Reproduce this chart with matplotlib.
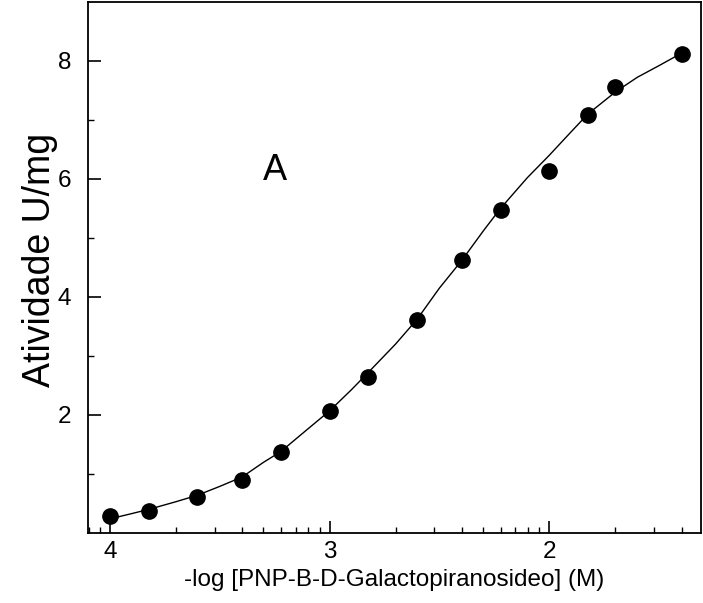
import matplotlib
matplotlib.use("Agg")
import matplotlib.pyplot as plt
from matplotlib.ticker import FixedLocator, LogLocator, NullFormatter, FuncFormatter
import numpy as np

# substrate concentration (mM) and measured activity (U/mg)
conc_mM = [0.1, 0.15, 0.25, 0.4, 0.6, 1.0, 1.5, 2.5, 4.0, 6.0, 10.0, 15.0, 20.0, 40.0]
activity = [0.29, 0.37, 0.61, 0.90, 1.37, 2.06, 2.65, 3.61, 4.63, 5.47, 6.13, 7.09, 7.55, 8.11]

# fitted curve: -log[S] and activity
fit_pl = [4.0, 3.9, 3.824, 3.7, 3.602, 3.5, 3.398, 3.3, 3.222, 3.1, 3.0, 2.9, 2.824,
          2.7, 2.602, 2.5, 2.398, 2.3, 2.222, 2.1, 2.0, 1.9, 1.824, 1.7, 1.6, 1.5, 1.398]
fit_act = [0.24, 0.33, 0.40, 0.53, 0.64, 0.79, 0.95, 1.20, 1.38, 1.76, 2.07, 2.43, 2.72,
           3.20, 3.62, 4.15, 4.62, 5.12, 5.50, 6.02, 6.40, 6.80, 7.10, 7.47, 7.72, 7.92, 8.13]

major_pl = [4, 3, 2]
y_major = [2, 4, 6, 8]
y_minor = [1, 3, 5, 7]

plt.rcParams["font.family"] = ["Liberation Sans", "DejaVu Sans"]

fig = plt.figure(figsize=(7.03, 6.03), dpi=100)
ax = fig.add_axes([0.125, 0.116, 0.872, 0.881])

conc_M = np.array(conc_mM) * 1e-3
fit_conc = 10.0 ** (-np.array(fit_pl))

ax.plot(fit_conc, fit_act, color="black", lw=1.0)
ax.plot(conc_M, activity, "o", color="black", ms=11, mec="black")

ax.set_xscale("log")
ax.set_xlim(10 ** -4.1, 10 ** -1.31)
ax.set_ylim(0, 9)

ax.xaxis.set_major_locator(FixedLocator([10.0 ** -p for p in major_pl]))
ax.xaxis.set_major_formatter(FuncFormatter(lambda v, pos: f"{-np.log10(v):.0f}"))
ax.xaxis.set_minor_locator(LogLocator(base=10, subs=np.arange(2, 10), numticks=20))
ax.xaxis.set_minor_formatter(NullFormatter())

ax.yaxis.set_major_locator(FixedLocator(y_major))
ax.yaxis.set_minor_locator(FixedLocator(y_minor))

ax.tick_params(which="both", direction="in", top=False, right=False, labelsize=17.5)
ax.tick_params(which="major", length=9, width=1.2)
ax.tick_params(which="minor", length=4, width=1.0)
ax.tick_params(axis="y", pad=12)
ax.tick_params(axis="x", pad=6)

for sp in ax.spines.values():
    sp.set_linewidth(1.3)

ax.set_xlabel("-log [PNP-B-D-Galactopiranosideo] (M)", fontsize=17.5, labelpad=4)
ax.set_ylabel("Atividade U/mg", fontsize=27, labelpad=0, y=0.515)

ax.text(10 ** -3.25, 6.15, "A", fontsize=26, ha="center", va="center")

fig.savefig("out.png", dpi=100)
